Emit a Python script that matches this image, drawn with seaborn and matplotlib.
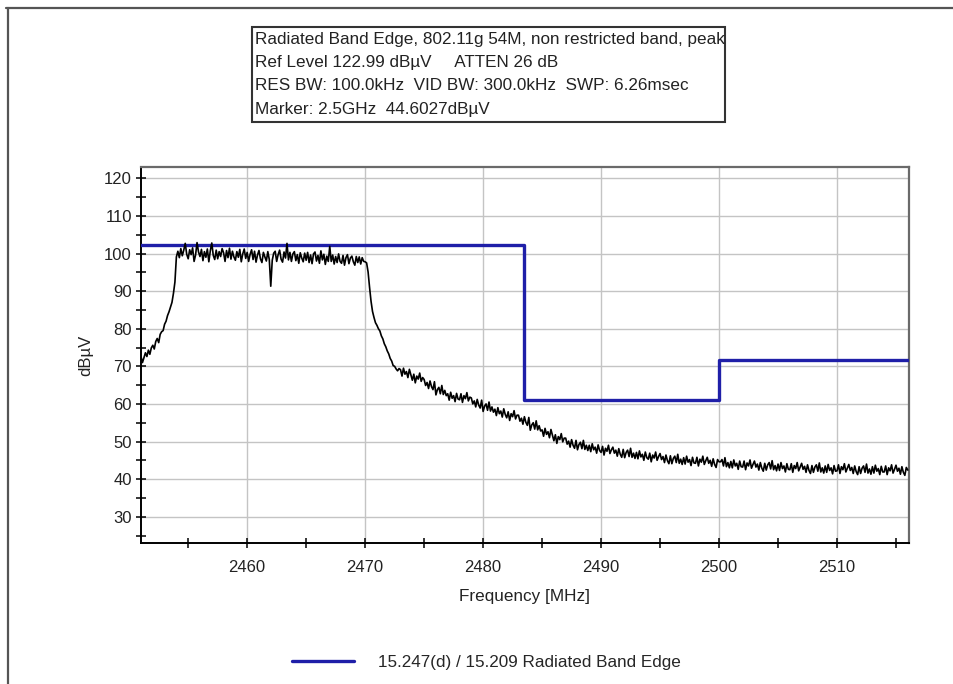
import numpy as np
import pandas as pd
import matplotlib
matplotlib.use("Agg")
import matplotlib.pyplot as plt
from matplotlib.lines import Line2D
from matplotlib.patches import Rectangle
from matplotlib.ticker import MultipleLocator
import seaborn as sns

# Analyzer sweep span (MHz); trace points are evenly spaced across it
sweep_start_mhz = 2451.0
sweep_stop_mhz = 2516.0

# Peak trace, dBuV, one reading every 0.125 MHz (one row per MHz)
trace_dbuv = [
    72.6, 71.0, 72.3, 73.6, 72.6, 74.3, 73.2, 74.9,        # 2451
    75.6, 74.6, 76.6, 77.4, 76.3, 78.5, 79.2, 79.5,        # 2452
    81.2, 82.0, 83.5, 84.5, 85.8, 87.0, 89.4, 92.4,        # 2453
    99.1, 100.6, 98.9, 101.3, 99.4, 100.9, 102.7, 99.8,    # 2454
    98.6, 101.0, 99.7, 101.5, 97.9, 99.6, 102.9, 100.4,    # 2455
    99.2, 101.1, 98.1, 100.5, 99.0, 101.2, 97.8, 100.7,    # 2456
    102.8, 99.5, 98.4, 100.9, 98.6, 100.5, 99.2, 101.3,    # 2457
    100.2, 97.9, 100.8, 98.9, 101.4, 98.5, 100.6, 99.1,    # 2458
    98.2, 100.5, 99.0, 101.1, 97.8, 99.9, 101.2, 98.7,     # 2459
    100.3, 97.9, 99.8, 101.0, 98.4, 100.6, 97.7, 99.6,     # 2460
    100.8, 98.6, 97.6, 100.3, 99.1, 98.0, 100.5, 98.4,     # 2461
    91.3, 98.2, 100.1, 100.6, 97.9, 99.7, 100.9, 98.5,     # 2462
    97.7, 100.4, 98.8, 102.7, 98.3, 100.3, 97.9, 99.9,     # 2463
    100.5, 98.1, 99.7, 97.4, 100.2, 98.8, 97.8, 100.1,     # 2464
    98.2, 100.3, 97.6, 99.6, 97.3, 99.9, 100.4, 98.0,      # 2465
    99.5, 97.4, 100.7, 98.3, 99.8, 97.1, 99.3, 97.9,       # 2466
    101.9, 97.9, 99.6, 97.2, 99.2, 97.6, 99.9, 97.9,       # 2467
    97.4, 99.5, 96.9, 98.9, 99.7, 97.3, 98.8, 99.3,        # 2468
    97.8, 96.9, 99.2, 97.6, 99.1, 97.2, 98.9, 97.9,        # 2469
    97.8, 97.5, 95.1, 91.0, 87.3, 84.6, 83.0, 81.6,        # 2470
    80.9, 80.0, 79.4, 78.1, 77.3, 76.0, 75.2, 74.1,        # 2471
    73.3, 72.1, 71.4, 70.2, 70.0, 69.3, 68.8, 69.4,        # 2472
    69.1, 67.4, 69.5, 67.9, 68.6, 67.0, 69.2, 67.7,        # 2473
    66.3, 67.9, 65.6, 67.4, 66.6, 68.2, 66.0, 67.0,        # 2474
    66.5, 64.9, 65.7, 64.1, 66.1, 64.6, 63.8, 65.9,        # 2475
    62.4, 63.8, 64.4, 62.7, 64.9, 62.5, 63.6, 62.2,        # 2476
    62.7, 61.0, 63.1, 61.5, 62.2, 60.6, 62.8, 61.3,        # 2477
    61.1, 62.7, 60.4, 62.2, 61.4, 63.0, 60.8, 61.8,        # 2478
    61.6, 60.0, 60.8, 59.2, 61.2, 59.7, 58.9, 61.0,        # 2479
    58.0, 59.4, 60.0, 58.3, 60.5, 58.1, 59.2, 57.8,        # 2480
    58.6, 56.9, 59.0, 57.4, 58.1, 56.5, 58.7, 57.2,        # 2481
    56.3, 57.9, 55.6, 57.4, 56.6, 58.2, 56.0, 57.0,        # 2482
    57.0, 55.4, 56.2, 54.6, 56.6, 55.1, 54.3, 56.4,        # 2483
    53.0, 54.4, 55.0, 53.3, 55.5, 53.1, 54.2, 52.8,        # 2484
    53.1, 51.4, 53.5, 51.9, 52.6, 51.0, 53.2, 51.7,        # 2485
    50.2, 51.8, 49.5, 51.3, 50.5, 52.1, 49.9, 50.9,        # 2486
    50.9, 49.3, 50.1, 48.5, 50.5, 49.0, 48.2, 50.3,        # 2487
    47.8, 49.2, 49.8, 48.1, 50.3, 47.9, 49.0, 47.6,        # 2488
    49.0, 47.3, 49.4, 47.8, 48.5, 46.9, 49.1, 47.6,        # 2489
    47.1, 48.7, 46.4, 48.2, 47.4, 49.0, 46.8, 47.8,        # 2490
    48.5, 46.9, 47.7, 46.1, 48.1, 46.6, 45.8, 47.9,        # 2491
    45.7, 47.1, 47.7, 46.0, 48.2, 45.8, 46.9, 45.5,        # 2492
    47.1, 45.4, 47.5, 45.9, 46.6, 45.0, 47.2, 45.7,        # 2493
    45.3, 46.9, 44.6, 46.4, 45.6, 47.2, 45.0, 46.0,        # 2494
    46.8, 45.2, 46.0, 44.4, 46.4, 44.9, 44.1, 46.2,        # 2495
    44.1, 45.5, 46.1, 44.4, 46.6, 44.2, 45.3, 43.9,        # 2496
    45.7, 44.0, 46.1, 44.5, 45.2, 43.6, 45.8, 44.3,        # 2497
    44.2, 45.8, 43.5, 45.3, 44.5, 46.1, 43.9, 44.9,        # 2498
    45.8, 44.2, 45.0, 43.4, 45.4, 43.9, 43.1, 45.2,        # 2499
    44.6, 44.6, 45.2, 43.5, 45.7, 43.3, 44.4, 43.0,        # 2500
    44.7, 43.0, 45.1, 43.5, 44.2, 42.6, 44.8, 43.3,        # 2501
    43.2, 44.8, 42.5, 44.3, 43.5, 45.1, 42.9, 43.9,        # 2502
    44.8, 43.2, 44.0, 42.4, 44.4, 42.9, 42.1, 44.2,        # 2503
    42.4, 43.8, 44.4, 42.7, 44.9, 42.5, 43.6, 42.2,        # 2504
    44.0, 42.3, 44.4, 42.8, 43.5, 41.9, 44.1, 42.6,        # 2505
    42.5, 44.1, 41.8, 43.6, 42.8, 44.4, 42.2, 43.2,        # 2506
    44.2, 42.6, 43.4, 41.8, 43.8, 42.3, 41.5, 43.6,        # 2507
    41.8, 43.2, 43.8, 42.1, 44.3, 41.9, 43.0, 41.6,        # 2508
    43.5, 41.8, 43.9, 42.3, 43.0, 41.4, 43.6, 42.1,        # 2509
    42.2, 43.8, 41.5, 43.3, 42.5, 44.1, 41.9, 42.9,        # 2510
    43.9, 42.3, 43.1, 41.5, 43.5, 42.0, 41.2, 43.3,        # 2511
    41.5, 42.9, 43.5, 41.8, 44.0, 41.6, 42.7, 41.3,        # 2512
    43.3, 41.6, 43.7, 42.1, 42.8, 41.2, 43.4, 41.9,        # 2513
    41.9, 43.5, 41.2, 43.0, 42.2, 43.8, 41.6, 42.6,        # 2514
    43.7, 42.1, 42.9, 41.3, 43.3, 41.8, 41.0, 43.1,        # 2515
    42.4,                                                  # 2516
]

# Band-edge limit: segment edges (MHz) and level of each segment (dBuV)
limit_edges_mhz = [2451.0, 2483.5, 2500.0, 2516.1]
limit_levels_dbuv = [102.2, 61.0, 71.8]

header_lines = [
    "Radiated Band Edge, 802.11g 54M, non restricted band, peak",
    "Ref Level 122.99 dB\u00b5V     ATTEN 26 dB",
    "RES BW: 100.0kHz  VID BW: 300.0kHz  SWP: 6.26msec",
    "Marker: 2.5GHz  44.6027dB\u00b5V",
]
legend_label = "15.247(d) / 15.209 Radiated Band Edge"
x_ticks = [2460, 2470, 2480, 2490, 2500, 2510]
y_ticks = [30, 40, 50, 60, 70, 80, 90, 100, 110, 120]

freq = np.linspace(sweep_start_mhz, sweep_stop_mhz, len(trace_dbuv))
trace_df = pd.DataFrame({"freq": freq, "level": trace_dbuv})
limit_df = pd.DataFrame({
    "freq": limit_edges_mhz,
    "level": limit_levels_dbuv + [limit_levels_dbuv[-1]],
})

sns.set_style("white")
plt.rcParams["font.family"] = ["Liberation Sans", "DejaVu Sans"]

fig = plt.figure(figsize=(9.54, 6.84), dpi=100)
ax = fig.add_axes([0.1478, 0.2061, 0.805, 0.5497])

sns.lineplot(data=limit_df, x="freq", y="level", color="#1f1fa8", lw=2.4,
             drawstyle="steps-post", estimator=None, sort=False, ax=ax,
             label=legend_label, zorder=3)
sns.lineplot(data=trace_df, x="freq", y="level", color="black", lw=1.2,
             estimator=None, sort=False, ax=ax, zorder=4)

ax.set_xlim(2451.0, 2516.1)
ax.set_ylim(23.0, 123.0)
ax.set_xticks(x_ticks)
ax.set_yticks(y_ticks)
ax.xaxis.set_minor_locator(MultipleLocator(5))
ax.yaxis.set_minor_locator(MultipleLocator(5))
ax.tick_params(which="both", bottom=True, left=True, direction="inout",
               length=7, width=1.1, color="black")
ax.tick_params(which="major", labelsize=12, labelcolor="#222222")
ax.tick_params(axis="y", which="major", pad=3)
ax.tick_params(axis="x", which="major", pad=9)
ax.grid(True, which="major", color="#c4c4c4", lw=1.0)
ax.set_axisbelow(True)
for side in ["left", "bottom"]:
    ax.spines[side].set_color("black")
    ax.spines[side].set_linewidth(1.4)
for side in ["top", "right"]:
    ax.spines[side].set_color("#6a6a6a")
    ax.spines[side].set_linewidth(1.6)

ax.set_xlabel("Frequency [MHz]", fontsize=12.3, color="#222222", labelpad=10)
ax.set_ylabel("dB\u00b5V", fontsize=12, color="#222222", labelpad=8)

handles, labels = ax.get_legend_handles_labels()
ax.get_legend().remove()
fig.legend(handles, labels, loc="center", bbox_to_anchor=(0.51, 0.031),
           frameon=False, fontsize=12.3, handlelength=3.6, handletextpad=1.4)

# Header box with instrument settings
W, H = 954.0, 684.0
box = Rectangle((252 / W, 1 - 122 / H), (725 - 252) / W, (122 - 27) / H,
                transform=fig.transFigure, fill=False, edgecolor="#333333",
                lw=1.5)
fig.add_artist(box)
for i, line in enumerate(header_lines):
    fig.text(255 / W, 1 - (39.5 + 23.2 * i) / H, line, fontsize=12.3,
             color="#222222", ha="left", va="center")

# Outer window frame
fig.add_artist(Line2D([6 / W, 1.0], [1 - 8 / H, 1 - 8 / H],
                      transform=fig.transFigure, color="#555555", lw=1.6))
fig.add_artist(Line2D([8 / W, 8 / W], [1 - 8 / H, 0.0],
                      transform=fig.transFigure, color="#555555", lw=1.6))

fig.savefig("out.png", dpi=100, facecolor="white")
